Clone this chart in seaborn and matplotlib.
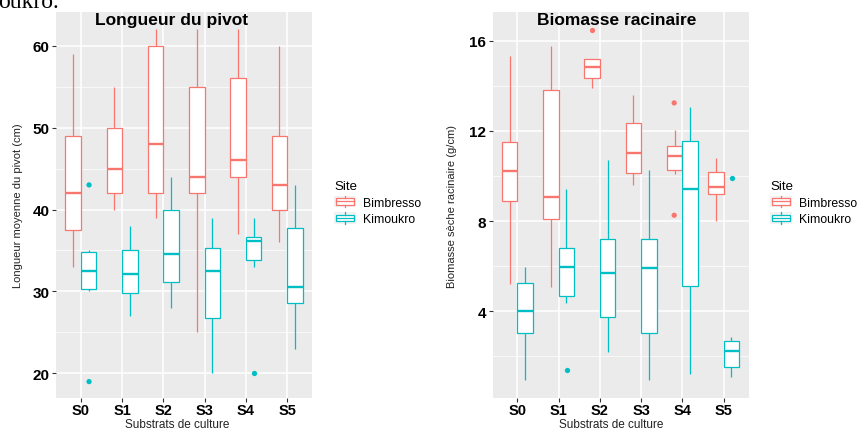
import numpy as np
import pandas as pd
import matplotlib
matplotlib.use("Agg")
import matplotlib.pyplot as plt
import seaborn as sns
from matplotlib.patches import Patch, Rectangle
from matplotlib.lines import Line2D
from matplotlib.legend_handler import HandlerBase
from matplotlib.ticker import MultipleLocator

# ---------------- data ----------------
categories = ["S0", "S1", "S2", "S3", "S4", "S5"]
sites = ["Bimbresso", "Kimoukro"]
site_colors = ["#F8766D", "#00BFC4"]

# Longueur du pivot (cm): box statistics
piv_bim_min = [33, 40, 39, 25, 37, 36]
piv_bim_q1 = [37.5, 42, 42, 42, 44, 40]
piv_bim_med = [42, 45, 48, 44, 46, 43]
piv_bim_q3 = [49, 50, 60, 55, 56, 49]
piv_bim_max = [59, 55, 62, 62, 62, 60]

piv_kim_min = [30, 27, 28, 20, 33, 23]
piv_kim_q1 = [30.25, 29.8, 31.2, 26.8, 33.8, 28.6]
piv_kim_med = [32.5, 32.1, 34.6, 32.5, 36.1, 30.6]
piv_kim_q3 = [34.8, 35, 40, 35.3, 36.7, 37.7]
piv_kim_max = [35, 38, 44, 39, 39, 43]

piv_out_cat = ["S0", "S0", "S4"]
piv_out_site = ["Kimoukro", "Kimoukro", "Kimoukro"]
piv_out_val = [43, 19, 20]

# Biomasse seche racinaire (g/cm): box statistics
bio_bim_min = [5.2, 5.1, 13.9, 9.6, 10.1, 8.0]
bio_bim_q1 = [8.9, 8.1, 14.35, 10.15, 10.27, 9.22]
bio_bim_med = [10.2, 9.05, 14.85, 11.0, 10.88, 9.53]
bio_bim_q3 = [11.5, 13.8, 15.17, 12.37, 11.33, 10.19]
bio_bim_max = [15.3, 15.75, 15.2, 13.58, 12.03, 10.81]

bio_kim_min = [0.96, 4.35, 2.19, 0.96, 1.23, 1.11]
bio_kim_q1 = [3.04, 4.69, 3.73, 3.04, 5.13, 1.55]
bio_kim_med = [4.03, 5.96, 5.68, 5.93, 9.41, 2.26]
bio_kim_q3 = [5.24, 6.8, 7.2, 7.23, 11.55, 2.67]
bio_kim_max = [5.98, 9.41, 10.71, 10.27, 13.05, 2.85]

bio_out_cat = ["S2", "S4", "S4", "S1", "S5"]
bio_out_site = ["Bimbresso", "Bimbresso", "Bimbresso", "Kimoukro", "Kimoukro"]
bio_out_val = [16.46, 13.24, 8.26, 1.42, 9.93]

piv_yticks = [20, 30, 40, 50, 60]
bio_yticks = [4, 8, 12, 16]


def stats_frame(stats_by_site):
    rows = []
    for site, stats in stats_by_site.items():
        for arr in stats:
            for cat, v in zip(categories, arr):
                rows.append((cat, site, v))
    return pd.DataFrame(rows, columns=["substrat", "site", "value"])


piv_df = stats_frame({
    "Bimbresso": [piv_bim_min, piv_bim_q1, piv_bim_med, piv_bim_q3, piv_bim_max],
    "Kimoukro": [piv_kim_min, piv_kim_q1, piv_kim_med, piv_kim_q3, piv_kim_max],
})
bio_df = stats_frame({
    "Bimbresso": [bio_bim_min, bio_bim_q1, bio_bim_med, bio_bim_q3, bio_bim_max],
    "Kimoukro": [bio_kim_min, bio_kim_q1, bio_kim_med, bio_kim_q3, bio_kim_max],
})
piv_out = pd.DataFrame({"substrat": piv_out_cat, "site": piv_out_site, "value": piv_out_val})
bio_out = pd.DataFrame({"substrat": bio_out_cat, "site": bio_out_site, "value": bio_out_val})

# ---------------- style ----------------
plt.rcParams["font.family"] = ["Liberation Sans", "DejaVu Sans"]
W, H = 863, 431
fig = plt.figure(figsize=(W / 100, H / 100), dpi=100)
fig.patch.set_facecolor("white")


class BoxKeyHandler(HandlerBase):
    def create_artists(self, legend, orig_handle, xdescent, ydescent,
                       width, height, fontsize, trans):
        col = orig_handle.get_edgecolor()
        x0, y0 = -xdescent, -ydescent
        bg = Rectangle((x0, y0), width, height, facecolor="#F2F2F2",
                       edgecolor="none", transform=trans)
        box = Rectangle((x0 + 0.1 * width, y0 + 0.22 * height), 0.8 * width,
                        0.56 * height, facecolor="white", edgecolor=col,
                        linewidth=0.9, transform=trans)
        med = Line2D([x0 + 0.1 * width, x0 + 0.9 * width],
                     [y0 + 0.5 * height] * 2, color=col, linewidth=0.9,
                     transform=trans)
        w1 = Line2D([x0 + 0.5 * width] * 2, [y0, y0 + 0.22 * height],
                    color=col, linewidth=0.9, transform=trans)
        w2 = Line2D([x0 + 0.5 * width] * 2, [y0 + 0.78 * height, y0 + height],
                    color=col, linewidth=0.9, transform=trans)
        return [bg, box, med, w1, w2]


def draw_panel(ax, df, out, ylim, yticks, ylabel, title, title_x, ylab_x,
               xlab_x):
    ax.set_facecolor("#EBEBEB")
    for site, col in zip(sites, site_colors):
        sub = df[df["site"] == site]
        sns.boxplot(data=sub, x="substrat", y="value", hue="site",
                    order=categories, hue_order=sites,
                    palette={s: "white" for s in sites}, linecolor=col,
                    linewidth=0.9, whis=np.inf, dodge=True, width=0.75,
                    gap=0, saturation=1, showcaps=False,
                    medianprops={"linewidth": 1.7},
                    legend=False, ax=ax)
    sns.stripplot(data=out, x="substrat", y="value", hue="site",
                  order=categories, hue_order=sites,
                  palette=dict(zip(sites, site_colors)), dodge=True,
                  jitter=False, size=3.8, linewidth=0, legend=False, ax=ax)
    ax.set_xlim(-0.6, 5.6)
    ax.set_ylim(*ylim)
    ax.set_yticks(yticks)
    ax.set_yticklabels([str(t) for t in yticks], fontweight="bold",
                       fontsize=11, color="black")
    ax.set_xticks(range(len(categories)))
    ax.set_xticklabels(categories, fontweight="bold", fontsize=10.5,
                       color="black")
    step = yticks[1] - yticks[0]
    ax.yaxis.set_minor_locator(MultipleLocator(step / 2))
    ax.set_axisbelow(True)
    ax.grid(True, which="major", axis="both", color="white", linewidth=1.1)
    ax.grid(True, which="minor", axis="y", color="white", linewidth=0.5)
    for s in ax.spines.values():
        s.set_visible(False)
    ax.tick_params(axis="y", which="major", length=3, width=0.8,
                   color="#333333", pad=1.5)
    ax.tick_params(axis="x", which="major", length=3, width=0.8,
                   color="#333333", pad=0.5)
    ax.tick_params(axis="both", which="minor", length=0)
    ax.set_xlabel("Substrats de culture", fontsize=8.5, color="#222222")
    ax.xaxis.set_label_coords(xlab_x, -0.051)
    ax.set_ylabel(ylabel, fontsize=8, color="#222222")
    ax.yaxis.label.set_verticalalignment("center")
    ax.yaxis.set_label_coords(ylab_x, 0.5)
    ax.text(title_x, 0.969, title, transform=ax.transAxes, ha="center",
            va="baseline", fontsize=12.5, fontweight="bold", color="black")


ax1 = fig.add_axes([56 / W, 1 - 399 / H, 256 / W, 386 / H])
ax2 = fig.add_axes([492.5 / W, 1 - 399 / H, 256 / W, 386 / H])

draw_panel(ax1, piv_df, piv_out, (17.0, 64.1), piv_yticks,
           "Longueur moyenne du pivot (cm)", "Longueur du pivot",
           0.453, -0.148, 0.475)
draw_panel(ax2, bio_df, bio_out, (0.16, 17.27), bio_yticks,
           "Biomasse sèche racinaire (g/cm)", "Biomasse racinaire",
           0.486, -0.159, 0.462)

handles = [Patch(facecolor="white", edgecolor=c, label=s)
           for s, c in zip(sites, site_colors)]
for lx in (334 / W, 770 / W):
    fig.legend(handles=handles, labels=sites, title="Site",
               loc="upper left", bbox_to_anchor=(lx, 1 - 181 / H),
               frameon=False, fontsize=8.8, title_fontsize=9.5,
               handlelength=1.8, handleheight=1.05, labelspacing=0.3,
               handletextpad=0.6, borderpad=0, borderaxespad=0,
               alignment="left",
               handler_map={Patch: BoxKeyHandler()})

# cropped caption fragment at the top-left corner of the source image
fig.text(-2 / W, 1 - 7.5 / H, "oukro.", fontsize=17,
         family=["Liberation Serif", "DejaVu Serif"], color="black",
         ha="left", va="baseline")

fig.savefig("out.png", dpi=100)
